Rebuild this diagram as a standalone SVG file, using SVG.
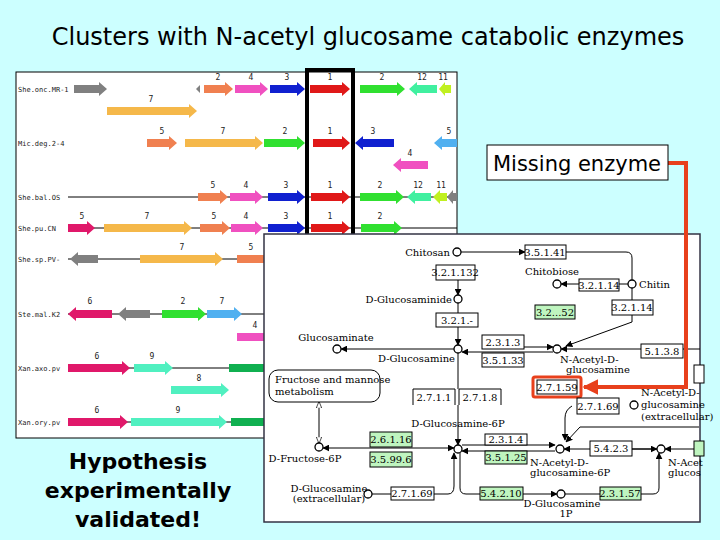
<svg xmlns="http://www.w3.org/2000/svg" width="720" height="540" viewBox="0 0 720 540">
<style>
.gl{font-family:"DejaVu Sans Mono",monospace;font-size:7px;fill:#222}
.gn{font-family:"DejaVu Sans Mono",monospace;font-size:8px;fill:#222;text-anchor:middle}
.ln{stroke:#000;stroke-width:1;fill:none}
.bx{fill:#fff;stroke:#000;stroke-width:1}
.gb{fill:#bff5bf;stroke:#000;stroke-width:1}
.bt{font-family:"DejaVu Serif",serif;font-size:10px;fill:#000;text-anchor:middle}
.mt{font-family:"DejaVu Serif",serif;font-size:10px;fill:#000}
.ci{fill:#fff;stroke:#000;stroke-width:1.3}
</style>
<defs>
<marker id="ah" viewBox="0 0 10 10" refX="9" refY="5" markerWidth="7" markerHeight="7" orient="auto-start-reverse"><path d="M0,0L10,5L0,10z" fill="#000"/></marker>
<marker id="rh" viewBox="0 0 10 10" refX="9" refY="5" markerWidth="4" markerHeight="4" orient="auto"><path d="M0,0L10,5L0,10z" fill="#e8401c"/></marker>
<marker id="oh" viewBox="0 0 10 10" refX="9" refY="5" markerWidth="7" markerHeight="7" orient="auto-start-reverse"><path d="M0,1L10,5L0,9z" fill="#fff" stroke="#000"/></marker>
</defs>
<rect width="720" height="540" fill="#ccffff"/>
<text x="368" y="45" font-family="'DejaVu Sans',sans-serif" font-size="24" text-anchor="middle">Clusters with N-acetyl glucosame catabolic enzymes</text>

<g id="gene-panel">
<rect x="16" y="72" width="441" height="366" fill="#fff" stroke="#000"/>
<g class="ln">
<line x1="68" y1="197" x2="457" y2="197"/><line x1="68" y1="228" x2="457" y2="228"/>
<line x1="68" y1="259" x2="265" y2="259"/><line x1="68" y1="314" x2="265" y2="314"/>
<line x1="68" y1="368" x2="265" y2="368"/><line x1="68" y1="422" x2="265" y2="422"/>
</g>
<text class="gl" x="18" y="92">She.onc.MR-1</text>
<text class="gl" x="18" y="146">Mic.deg.2-4</text>
<text class="gl" x="18" y="200">She.bal.OS</text>
<text class="gl" x="18" y="231">She.pu.CN</text>
<text class="gl" x="18" y="262">She.sp.PV-</text>
<text class="gl" x="18" y="317">Ste.mal.K2</text>
<text class="gl" x="18" y="371">Xan.axo.pv</text>
<text class="gl" x="18" y="425">Xan.ory.pv</text>
<polygon fill="#808080" points="74,85 99,85 99,82 107,89 99,96 99,93 74,93"/>
<polygon fill="#808080" points="200,85 200,93 196,89"/>
<polygon fill="#f08050" points="204,85 225,85 225,82 233,89 225,96 225,93 204,93"/>
<polygon fill="#f050c0" points="235,85 260,85 260,82 268,89 260,96 260,93 235,93"/>
<polygon fill="#1020d0" points="270,85 297,85 297,82 305,89 297,96 297,93 270,93"/>
<polygon fill="#e01818" points="310,85 342,85 342,82 350,89 342,96 342,93 310,93"/>
<polygon fill="#30e030" points="360,85 397,85 397,82 405,89 397,96 397,93 360,93"/>
<polygon fill="#40f0a0" points="437,85 417,85 417,82 409,89 417,96 417,93 437,93"/>
<polygon fill="#c0f020" points="451,85 445,85 445,82 439,89 445,96 445,93 451,93"/>
<text class="gn" x="218" y="80">2</text><text class="gn" x="251" y="80">4</text><text class="gn" x="287" y="80">3</text><text class="gn" x="330" y="80">1</text><text class="gn" x="382" y="80">2</text><text class="gn" x="422" y="80">12</text><text class="gn" x="443" y="80">11</text>
<polygon fill="#f5b84a" points="107,107 189,107 189,104 197,111 189,118 189,115 107,115"/>
<text class="gn" x="151" y="102">7</text>
<polygon fill="#f08050" points="147,139 169,139 169,136 177,143 169,150 169,147 147,147"/>
<polygon fill="#f5b84a" points="185,139 255,139 255,136 263,143 255,150 255,147 185,147"/>
<polygon fill="#30e030" points="264,139 297,139 297,136 305,143 297,150 297,147 264,147"/>
<polygon fill="#e01818" points="313,139 342,139 342,136 350,143 342,150 342,147 313,147"/>
<polygon fill="#1020d0" points="394,139 363,139 363,136 355,143 363,150 363,147 394,147"/>
<polygon fill="#50b0f0" points="457,139 442,139 442,136 434,143 442,150 442,147 457,147"/>
<text class="gn" x="162" y="134">5</text><text class="gn" x="223" y="134">7</text><text class="gn" x="285" y="134">2</text><text class="gn" x="330" y="134">1</text><text class="gn" x="373" y="134">3</text><text class="gn" x="449" y="134">5</text>
<polygon fill="#f050c0" points="428,161 401,161 401,158 393,165 401,172 401,169 428,169"/>
<text class="gn" x="410" y="156">4</text>
<polygon fill="#f08050" points="198,193 220,193 220,190 228,197 220,204 220,201 198,201"/>
<polygon fill="#f050c0" points="230,193 255,193 255,190 263,197 255,204 255,201 230,201"/>
<polygon fill="#1020d0" points="268,193 297,193 297,190 305,197 297,204 297,201 268,201"/>
<polygon fill="#e01818" points="311,193 342,193 342,190 350,197 342,204 342,201 311,201"/>
<polygon fill="#30e030" points="360,193 396,193 396,190 404,197 396,204 396,201 360,201"/>
<polygon fill="#40f0a0" points="431,193 415,193 415,190 407,197 415,204 415,201 431,201"/>
<polygon fill="#c0f020" points="447,193 440,193 440,190 433,197 440,204 440,201 447,201"/>
<polygon fill="#808080" points="457,193 453,193 453,190 447,197 453,204 453,201 457,201"/>
<text class="gn" x="213" y="188">5</text><text class="gn" x="246" y="188">4</text><text class="gn" x="286" y="188">3</text><text class="gn" x="330" y="188">1</text><text class="gn" x="380" y="188">2</text><text class="gn" x="418" y="188">12</text><text class="gn" x="441" y="188">11</text>
<polygon fill="#e0186a" points="68,224 87,224 87,221 95,228 87,235 87,232 68,232"/>
<polygon fill="#f5b84a" points="104,224 184,224 184,221 192,228 184,235 184,232 104,232"/>
<polygon fill="#f08050" points="200,224 222,224 222,221 230,228 222,235 222,232 200,232"/>
<polygon fill="#f050c0" points="231,224 255,224 255,221 263,228 255,235 255,232 231,232"/>
<polygon fill="#1020d0" points="268,224 297,224 297,221 305,228 297,235 297,232 268,232"/>
<polygon fill="#e01818" points="311,224 342,224 342,221 350,228 342,235 342,232 311,232"/>
<polygon fill="#30e030" points="361,224 394,224 394,221 402,228 394,235 394,232 361,232"/>
<text class="gn" x="82" y="219">5</text><text class="gn" x="147" y="219">7</text><text class="gn" x="214" y="219">5</text><text class="gn" x="246" y="219">4</text><text class="gn" x="286" y="219">3</text><text class="gn" x="330" y="219">1</text><text class="gn" x="380" y="219">2</text>
<polygon fill="#808080" points="98,255 78,255 78,252 70,259 78,266 78,263 98,263"/>
<polygon fill="#f5b84a" points="140,255 215,255 215,252 223,259 215,266 215,263 140,263"/>
<polygon fill="#f08050" points="237,255 265,255 265,263 237,263"/>
<text class="gn" x="182" y="250">7</text><text class="gn" x="251" y="250">5</text>
<polygon fill="#e0186a" points="112,310 76,310 76,307 68,314 76,321 76,318 112,318"/>
<polygon fill="#808080" points="150,310 126,310 126,307 118,314 126,321 126,318 150,318"/>
<polygon fill="#30e030" points="162,310 198,310 198,307 206,314 198,321 198,318 162,318"/>
<polygon fill="#50b0f0" points="207,310 234,310 234,307 242,314 234,321 234,318 207,318"/>
<text class="gn" x="90" y="304">6</text><text class="gn" x="183" y="304">2</text><text class="gn" x="222" y="304">7</text>
<polygon fill="#f050c0" points="237,333 265,333 265,341 237,341"/>
<text class="gn" x="255" y="328">4</text>
<polygon fill="#e0186a" points="68,364 122,364 122,361 130,368 122,375 122,372 68,372"/>
<polygon fill="#50f0c0" points="134,364 165,364 165,361 173,368 165,375 165,372 134,372"/>
<polygon fill="#10b050" points="229,364 265,364 265,372 229,372"/>
<text class="gn" x="97" y="359">6</text><text class="gn" x="152" y="359">9</text>
<polygon fill="#50f0c0" points="171,386 221,386 221,383 229,390 221,397 221,394 171,394"/>
<text class="gn" x="199" y="381">8</text>
<polygon fill="#e0186a" points="68,418 120,418 120,415 128,422 120,429 120,426 68,426"/>
<polygon fill="#50f0c0" points="131,418 219,418 219,415 227,422 219,429 219,426 131,426"/>
<polygon fill="#10b050" points="231,418 265,418 265,426 231,426"/>
<text class="gn" x="97" y="413">6</text><text class="gn" x="178" y="413">9</text>
<rect x="307" y="70" width="46" height="200" fill="none" stroke="#000" stroke-width="4"/>
</g>

<g id="hypothesis">
<text font-family="'DejaVu Sans',sans-serif" font-size="22" font-weight="bold" text-anchor="middle"><tspan x="138" y="469">Hypothesis</tspan><tspan x="138" y="498">experimentally</tspan><tspan x="138" y="527">validated!</tspan></text>
</g>

<g id="pathway-panel">
<rect x="264" y="234" width="436" height="288" fill="#fff" stroke="#334" stroke-width="1.5"/>
</g>

<g id="connectors">
<line class="ln" x1="461" y1="252" x2="525" y2="252" marker-end="url(#ah)"/>
<path class="ln" d="M566,252H626Q632,252 632,258V280"/>
<line class="ln" x1="458" y1="280" x2="458" y2="295" marker-end="url(#ah)"/>
<line class="ln" x1="458" y1="303" x2="458" y2="313"/>
<line class="ln" x1="458" y1="327" x2="458" y2="345" marker-end="url(#ah)"/>
<line class="ln" x1="458" y1="353" x2="458" y2="389"/>
<line class="ln" x1="628" y1="284" x2="619" y2="284"/>
<line class="ln" x1="579" y1="284" x2="561" y2="284" marker-end="url(#ah)"/>
<path class="ln" d="M632,288V300M632,315V322L566,346" marker-end="url(#ah)"/>
<line class="ln" x1="454" y1="349" x2="341" y2="349" marker-end="url(#ah)"/>
<line class="ln" x1="482" y1="347" x2="553" y2="347" marker-end="url(#ah)"/>
<line class="ln" x1="553" y1="352" x2="462" y2="352" marker-end="url(#ah)"/>
<line class="ln" x1="700" y1="349" x2="561" y2="349" marker-end="url(#ah)"/>
<line class="ln" x1="458" y1="405" x2="458" y2="445" marker-end="url(#ah)"/>
<line class="ln" x1="454" y1="448" x2="323" y2="448" marker-start="url(#ah)" marker-end="url(#ah)"/>
<line class="ln" x1="319" y1="402" x2="319" y2="443" marker-start="url(#oh)" marker-end="url(#oh)"/>
<line class="ln" x1="462" y1="445" x2="555" y2="445" marker-end="url(#ah)"/>
<line class="ln" x1="555" y1="451" x2="462" y2="451" marker-end="url(#ah)"/>
<path class="ln" d="M572,406Q565,410 565,418V440" marker-end="url(#ah)"/>
<path class="ln" d="M699,427H580L566,442" marker-end="url(#ah)"/>
<line class="ln" x1="657" y1="449" x2="564" y2="449" marker-end="url(#ah)"/>
<line class="ln" x1="632" y1="449" x2="657" y2="449" marker-end="url(#ah)"/>
<line class="ln" x1="694" y1="449" x2="665" y2="449" marker-end="url(#ah)"/>
<path class="ln" d="M372,494H448Q454,494 454,486V453" marker-end="url(#ah)"/>
<path class="ln" d="M460,453V488Q460,494 466,494H557" marker-end="url(#ah)"/>
<path class="ln" d="M565,494H653Q659,494 659,488V453" marker-end="url(#ah)"/>
<polyline points="668,163 686,163 686,387 584,387" fill="none" stroke="#e8401c" stroke-width="4" marker-end="url(#rh)"/>
</g>

<g id="boxes">
<rect class="bx" x="525" y="245" width="41" height="14"/><text class="bt" x="545" y="256">3.5.1.41</text>
<rect class="bx" x="436" y="265" width="39" height="15"/><text class="bt" x="455" y="276">3.2.1.132</text>
<rect class="bx" x="579" y="279" width="40" height="12"/><text class="bt" x="599" y="289">3.2.1.14</text>
<rect class="gb" x="535" y="305" width="40" height="14"/><text class="bt" x="555" y="316">3.2...52</text>
<rect class="bx" x="612" y="300" width="41" height="15"/><text class="bt" x="632" y="311">3.2.1.14</text>
<rect class="bx" x="436" y="313" width="42" height="14"/><text class="bt" x="457" y="324">3.2.1.-</text>
<rect class="bx" x="482" y="335" width="42" height="14"/><text class="bt" x="503" y="346">2.3.1.3</text>
<rect class="bx" x="482" y="353" width="42" height="14"/><text class="bt" x="503" y="364">3.5.1.33</text>
<rect class="bx" x="641" y="344" width="42" height="14"/><text class="bt" x="662" y="355">5.1.3.8</text>
<rect x="533" y="377" width="48" height="20" rx="2" fill="none" stroke="#e8401c" stroke-width="3"/>
<rect class="bx" x="537" y="380" width="40" height="14"/><text class="bt" x="557" y="391">2.7.1.59</text>
<rect class="bx" x="577" y="398" width="42" height="16"/><text class="bt" x="598" y="410">2.7.1.69</text>
<path class="ln" d="M413,405V389H455V405M459,405V389H501V405"/>
<text class="bt" x="434" y="401">2.7.1.1</text><text class="bt" x="480" y="401">2.7.1.8</text>
<rect class="bx" x="269" y="370" width="111" height="32" rx="9"/>
<text class="mt" x="275" y="383">Fructose and mannose</text><text class="mt" x="275" y="395">metabolism</text>
<rect class="gb" x="370" y="432" width="42" height="15"/><text class="bt" x="391" y="443">2.6.1.16</text>
<rect class="gb" x="370" y="452" width="42" height="15"/><text class="bt" x="391" y="463">3.5.99.6</text>
<rect class="bx" x="485" y="434" width="42" height="11"/><text class="bt" x="506" y="443">2.3.1.4</text>
<rect class="gb" x="485" y="451" width="42" height="13"/><text class="bt" x="506" y="461">3.5.1.25</text>
<rect class="bx" x="590" y="441" width="42" height="15"/><text class="bt" x="611" y="452">5.4.2.3</text>
<rect class="gb" x="694" y="441" width="10" height="15"/>
<rect class="bx" x="391" y="487" width="43" height="13"/><text class="bt" x="412" y="497">2.7.1.69</text>
<rect class="gb" x="480" y="487" width="43" height="13"/><text class="bt" x="501" y="497">5.4.2.10</text>
<rect class="gb" x="600" y="487" width="41" height="13"/><text class="bt" x="620" y="497">2.3.1.57</text>
<rect class="bx" x="694" y="365" width="10" height="18"/>
</g>

<g id="compounds">
<circle class="ci" cx="457" cy="252" r="4"/><text class="mt" x="450" y="256" text-anchor="end">Chitosan</text>
<circle class="ci" cx="632" cy="284" r="4"/><text class="mt" x="639" y="288">Chitin</text>
<circle class="ci" cx="557" cy="284" r="4"/><text class="bt" x="552" y="275">Chitobiose</text>
<circle class="ci" cx="458" cy="299" r="4"/><text class="mt" x="452" y="303" text-anchor="end">D-Glucosaminide</text>
<circle class="ci" cx="337" cy="349" r="4"/><text class="bt" x="336" y="341">Glucosaminate</text>
<circle class="ci" cx="458" cy="349" r="4"/><text class="mt" x="455" y="362" text-anchor="end">D-Glucosamine</text>
<circle class="ci" cx="557" cy="349" r="4"/><text class="mt" x="560" y="363">N-Acetyl-D-</text><text class="mt" x="566" y="373">glucosamine</text>
<circle class="ci" cx="634" cy="405" r="4"/><text class="mt" x="641" y="396">N-Acetyl-D-</text><text class="mt" x="641" y="408">glucosamine</text><text class="mt" x="641" y="420">(extracellular)</text>
<text class="bt" x="458" y="427">D-Glucosamine-6P</text>
<circle class="ci" cx="458" cy="449" r="4"/>
<circle class="ci" cx="319" cy="447" r="4"/><text class="bt" x="305" y="462">D-Fructose-6P</text>
<circle class="ci" cx="560" cy="449" r="4"/><text class="mt" x="530" y="466">N-Acetyl-D-</text><text class="mt" x="530" y="476">glucosamine-6P</text>
<circle class="ci" cx="661" cy="449" r="4"/><text class="mt" x="668" y="466">N-Acet</text><text class="mt" x="668" y="476">glucos</text>
<circle class="ci" cx="368" cy="494" r="4"/><text class="bt" x="329" y="492">D-Glucosamine</text><text class="bt" x="329" y="502">(extracellular)</text>
<circle class="ci" cx="561" cy="494" r="4"/><text class="bt" x="562" y="507">D-Glucosamine</text><text class="bt" x="566" y="517">1P</text>
</g>

<g id="missing-enzyme">
<rect x="487" y="145" width="181" height="35" fill="#fff" stroke="#000"/>
<text x="577" y="171" font-family="'DejaVu Sans',sans-serif" font-size="21" text-anchor="middle">Missing enzyme</text>
</g>
</svg>
